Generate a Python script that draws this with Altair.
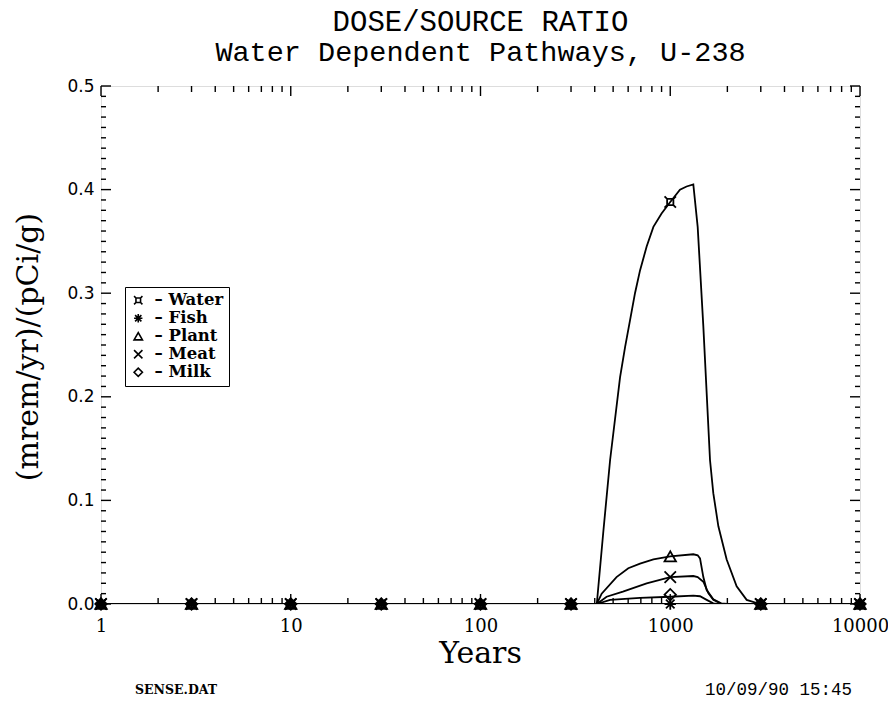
import altair as alt
import pandas as pd

# ---------------- data ----------------
title_lines = ["DOSE/SOURCE RATIO", "Water Dependent Pathways, U-238"]
x_title = "Years"
y_title = "(mrem/yr)/(pCi/g)"
series_names = ["Water", "Fish", "Plant", "Meat", "Milk"]

water_years = [1, 3, 10, 30, 100, 300, 410, 444, 482, 544, 578, 614, 652, 693, 751, 815, 900,
               1000, 1125, 1219, 1323, 1395, 1494, 1620, 1686, 1793, 1983, 2238, 2528, 2970, 10000]
water_vals = [0, 0, 0, 0, 0, 0, 0, 0.070, 0.139, 0.219, 0.248, 0.274, 0.300, 0.322, 0.345, 0.364, 0.377,
              0.388, 0.400, 0.403, 0.405, 0.364, 0.268, 0.139, 0.107, 0.075, 0.043, 0.017, 0.004, 0, 0]

fish_years = [1, 3, 10, 30, 100, 300, 1000, 3000, 10000]
fish_vals = [0, 0, 0, 0, 0, 0, 0, 0, 0]

plant_years = [1, 3, 10, 30, 100, 300, 410, 435, 521, 601, 693, 815, 1000, 1323, 1395, 1435, 1494,
               1556, 1686, 1855, 2000, 3000, 10000]
plant_vals = [0, 0, 0, 0, 0, 0, 0, 0.010, 0.026, 0.0345, 0.039, 0.043, 0.046, 0.048, 0.047, 0.044, 0.026,
              0.0135, 0.0045, 0.0007, 0, 0, 0]

meat_years = [1, 3, 10, 30, 100, 300, 410, 462, 563, 751, 1000, 1323, 1395, 1494, 1590, 1686, 1870,
              3000, 10000]
meat_vals = [0, 0, 0, 0, 0, 0, 0, 0.007, 0.012, 0.020, 0.026, 0.027, 0.026, 0.0215, 0.0103, 0.004, 0,
             0, 0]

milk_years = [1, 3, 10, 30, 100, 300, 410, 482, 693, 1000, 1323, 1435, 1556, 1686, 1800, 3000, 10000]
milk_vals = [0, 0, 0, 0, 0, 0, 0, 0.004, 0.006, 0.007, 0.008, 0.0075, 0.004, 0.0006, 0, 0, 0]

marker_years = [1, 3, 10, 30, 100, 300, 1000, 3000, 10000]
water_marks = [0, 0, 0, 0, 0, 0, 0.388, 0, 0]
fish_marks = [0, 0, 0, 0, 0, 0, 0, 0, 0]
plant_marks = [0, 0, 0, 0, 0, 0, 0.046, 0, 0]
meat_marks = [0, 0, 0, 0, 0, 0, 0.026, 0, 0]
milk_marks = [0, 0, 0, 0, 0, 0, 0.009, 0, 0]

x_major = [1, 10, 100, 1000, 10000]
x_minor = [m * d for d in [1, 10, 100, 1000] for m in range(2, 10)]
y_major = [0.0, 0.1, 0.2, 0.3, 0.4, 0.5]
y_minor = [round(i / 100, 2) for i in range(1, 50) if i % 10 != 0]

footer_left = "SENSE.DAT"
footer_right = "10/09/90  15:45"

# ---------------- frames ----------------
line_rows = []
for name, ys, vs in [("Water", water_years, water_vals), ("Fish", fish_years, fish_vals),
                     ("Plant", plant_years, plant_vals), ("Meat", meat_years, meat_vals),
                     ("Milk", milk_years, milk_vals)]:
    for i, (yr, v) in enumerate(zip(ys, vs)):
        line_rows.append({"series": name, "year": yr, "value": v, "order": i})
lines_df = pd.DataFrame(line_rows)

mark_rows = []
for name, vs in [("Water", water_marks), ("Fish", fish_marks), ("Plant", plant_marks),
                 ("Meat", meat_marks), ("Milk", milk_marks)]:
    for yr, v in zip(marker_years, vs):
        mark_rows.append({"series": name, "year": yr, "value": v})
marks_df = pd.DataFrame(mark_rows)

W, H = 759, 518

water_shape = ("M-0.55,-0.55L0.55,-0.55L0.55,0.55L-0.55,0.55Z"
               "M-1,-1L-0.55,-0.55M1,-1L0.55,-0.55M1,1L0.55,0.55M-1,1L-0.55,0.55")
fish_shape = "M-1,0L1,0M0,-1L0,1M-0.75,-0.75L0.75,0.75M-0.75,0.75L0.75,-0.75"
meat_shape = "M-1,-1L1,1M-1,1L1,-1"
shapes = [water_shape, fish_shape, "triangle-up", meat_shape, "diamond"]

xscale = alt.Scale(type="log", domain=[1, 10000], nice=False)
yscale = alt.Scale(domain=[0, 0.5], nice=False, zero=False)

x_enc = alt.X("year:Q", scale=xscale,
              axis=alt.Axis(values=x_major, format="d", ticks=False, domain=False, grid=False,
                            title=None,
                            labelFont="DejaVu Serif", labelFontSize=18, labelPadding=13,
                            labelColor="black", labelFlush=False))
y_enc = alt.Y("value:Q", scale=yscale,
              axis=alt.Axis(values=y_major, format=".1f", ticks=False, domain=False, grid=False,
                            title=None,
                            labelFont="DejaVu Sans", labelFontSize=17, labelPadding=7,
                            labelColor="black", labelFlush=False))

lines = alt.Chart(lines_df).mark_line(color="black", strokeWidth=1.8, clip=True).encode(
    x=x_enc, y=y_enc, detail="series:N", order="order:Q")

points = alt.Chart(marks_df).mark_point(filled=False, color="black", strokeWidth=1.8,
                                        size=130, opacity=1).encode(
    x=alt.X("year:Q", scale=xscale),
    y=alt.Y("value:Q", scale=yscale),
    shape=alt.Shape("series:N", scale=alt.Scale(domain=series_names, range=shapes),
                    legend=alt.Legend(title=None, orient="none", legendX=24, legendY=201,
                                      strokeColor="black", padding=5,
                                      fillColor="white",
                                      labelFont="DejaVu Serif", labelFontSize=16.5,
                                      labelFontWeight="bold", labelColor="black",
                                      labelExpr="'\u2013 ' + datum.label",
                                      symbolStrokeColor="black", symbolStrokeWidth=1.6,
                                      symbolFillColor="transparent", symbolSize=70,
                                      rowPadding=1, labelOffset=8)))

xt_major = pd.DataFrame({"year": x_major})
xt_minor = pd.DataFrame({"year": x_minor})
yt_major = pd.DataFrame({"value": y_major})
yt_minor = pd.DataFrame({"value": y_minor})

def xticks(df, length):
    bottom = alt.Chart(df).mark_rule(color="black", strokeWidth=1.4).encode(
        x=alt.X("year:Q", scale=xscale), y=alt.value(H), y2=alt.value(H - length))
    top = alt.Chart(df).mark_rule(color="black", strokeWidth=1.4).encode(
        x=alt.X("year:Q", scale=xscale), y=alt.value(0), y2=alt.value(length))
    return bottom + top

def yticks(df, length):
    left = alt.Chart(df).mark_rule(color="black", strokeWidth=1.4).encode(
        y=alt.Y("value:Q", scale=yscale), x=alt.value(0), x2=alt.value(length))
    right = alt.Chart(df).mark_rule(color="black", strokeWidth=1.4).encode(
        y=alt.Y("value:Q", scale=yscale), x=alt.value(W), x2=alt.value(W - length))
    return left + right

def text_layer(txt, **kw):
    enc = {k: v for k, v in kw.items() if k in ("x", "y")}
    mk = {k: v for k, v in kw.items() if k not in ("x", "y")}
    return alt.Chart(pd.DataFrame({"t": [txt]})).mark_text(color="black", **mk).encode(
        text="t:N", **enc)

title1 = text_layer(title_lines[0], font="Liberation Mono", fontSize=29, align="center",
                    baseline="alphabetic", x=alt.value(W / 2), y=alt.value(-55))
title2 = text_layer(title_lines[1], font="Liberation Mono", fontSize=28.5, align="center",
                    baseline="alphabetic", x=alt.value(W / 2), y=alt.value(-25))
xlab = text_layer(x_title, font="DejaVu Serif", fontSize=30, align="center",
                  baseline="alphabetic", x=alt.value(W / 2), y=alt.value(577))
ylab = text_layer(y_title, font="DejaVu Serif", fontSize=30, align="center",
                  baseline="middle", angle=270, x=alt.value(-72), y=alt.value(261))
foot_l = text_layer(footer_left, font="DejaVu Serif", fontSize=12.5, fontWeight="bold",
                    align="left", baseline="middle", x=alt.value(34), y=alt.value(604))
foot_r = text_layer(footer_right, font="Liberation Mono", fontSize=17.5,
                    align="right", baseline="middle", x=alt.value(751), y=alt.value(604))

chart = alt.layer(
    lines, xticks(xt_major, 10), xticks(xt_minor, 6), yticks(yt_major, 10), yticks(yt_minor, 5),
    points, title1, title2, xlab, ylab, foot_l, foot_r
).properties(
    width=W, height=H,
    autosize=alt.AutoSizeParams(type="none"),
    padding={"left": 93, "top": 78, "right": 28, "bottom": 96},
).configure_view(stroke="black", strokeWidth=1.6).configure(background="white")

chart.save("out.html", embed_options={"renderer": "svg", "actions": False})
